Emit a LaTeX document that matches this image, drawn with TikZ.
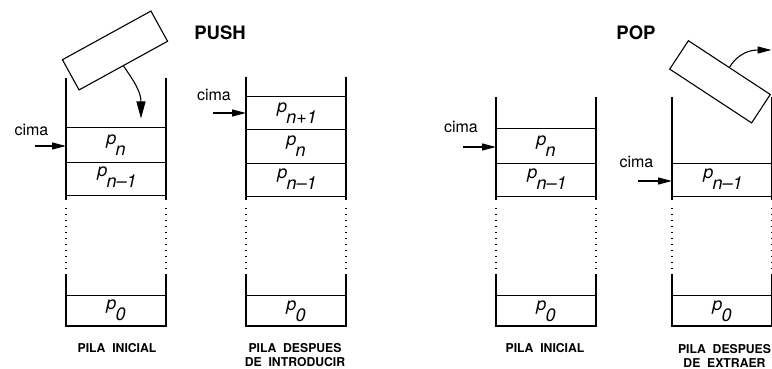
\documentclass[tikz,border=0pt]{standalone}
\usepackage{fontspec}
\setmainfont{TeX Gyre Heros}
\usetikzlibrary{arrows.meta,calc}
\tikzset{
  wall/.style={line width=1.1pt},
  sepline/.style={line width=1pt},
  dotwall/.style={line width=1.1pt, dash pattern=on 1pt off 5pt},
  cimaarrow/.style={line width=1.1pt,-{Triangle[length=14pt,width=7pt]}},
  lbl/.style={font=\fontsize{18}{18}\selectfont\itshape, inner sep=0pt},
  capt/.style={font=\fontsize{12.2}{14}\selectfont\bfseries, align=center, inner sep=0pt},
  ttl/.style={font=\fontsize{18.5}{18.5}\selectfont\bfseries, inner sep=0pt},
  cimatxt/.style={font=\fontsize{16}{16}\selectfont, inner sep=0pt},
  block/.style={draw, line width=1.1pt, inner sep=0pt}
}
\newcommand\pl[1]{p\kern-0.8pt\raisebox{-11pt}{#1}}
\newcommand\drawpila[2]{% #1 left x, #2 top y
  \draw[wall] (#1,#2) -- (#1,200) (#1+100,#2) -- (#1+100,200);
  \draw[dotwall] (#1,208) -- (#1,270) (#1+100,208) -- (#1+100,270);
  \draw[wall] (#1,274) -- (#1,326) -- (#1+100,326) -- (#1+100,274);
  \draw[sepline] (#1,295.5) -- (#1+100,295.5);
}
\begin{document}
\begin{tikzpicture}[x=1pt,y=-1pt]
\useasboundingbox (0,0) rectangle (772,369);

% titles
\node[ttl] (push) at (220,33) {PUSH};
\node[ttl] (pop) at (636,33) {POP};

% ---------- stack 1 ----------
\drawpila{66}{78}
\foreach \yy in {128,162,195} \draw[sepline] (66,\yy) -- (166,\yy);
\node[lbl] (s1a) at (116,145) {\pl{n}};
\node[lbl] (s1b) at (117,177.5) {\pl{n–1}};
\node[lbl] (s1z) at (116,310.5) {\pl{0}};
\node[cimatxt] (c1) at (31.5,130) {cima};
\coordinate (a1s) at (35,146); \coordinate (a1e) at (66,146);
\draw[cimaarrow] (a1s) -- (a1e);
\node[capt] (l1) at (117,348) {PILA\ \ INICIAL};

% falling block
\node[block, minimum width=101pt, minimum height=34.5pt, rotate=28.8] (r1) at (115,50.5) {};
\coordinate (t1) at (141,118.5);
\draw[line width=1.1pt,-{Triangle[length=17pt,width=9pt]}] (r1.south) .. controls (134,81) and (141,92) .. (t1);

% ---------- stack 2 ----------
\drawpila{246}{77}
\foreach \yy in {97,130,163,196} \draw[sepline] (246,\yy) -- (346,\yy);
\node[lbl] (s2a) at (297,113.5) {\pl{n+1}};
\node[lbl] (s2b) at (296,146.5) {\pl{n}};
\node[lbl] (s2c) at (297,179) {\pl{n–1}};
\node[lbl] (s2z) at (296,311) {\pl{0}};
\node[cimatxt] (c2) at (214,95) {cima};
\coordinate (a2s) at (213,113); \coordinate (a2e) at (246,113);
\draw[cimaarrow] (a2s) -- (a2e);
\node[capt] (l2) at (295,355.5) {PILA\ \ DESPUES\\DE\ \ INTRODUCIR};

% ---------- stack 3 ----------
\drawpila{496}{97}
\foreach \yy in {129,163,196} \draw[sepline] (496,\yy) -- (596,\yy);
\node[lbl] (s3a) at (546,146) {\pl{n}};
\node[lbl] (s3b) at (547,179) {\pl{n–1}};
\node[lbl] (s3z) at (546,311) {\pl{0}};
\node[cimatxt] (c3) at (461,127) {cima};
\coordinate (a3s) at (463,147); \coordinate (a3e) at (496,147);
\draw[cimaarrow] (a3s) -- (a3e);
\node[capt] (l3) at (545,348) {PILA\ \ INICIAL};

% ---------- stack 4 ----------
\drawpila{672}{97}
\foreach \yy in {163,196} \draw[sepline] (672,\yy) -- (772,\yy);
\node[lbl] (s4b) at (723,179) {\pl{n–1}};
\node[lbl] (s4z) at (722,311) {\pl{0}};
\node[cimatxt] (c4) at (636.5,162) {cima};
\coordinate (a4s) at (638,181); \coordinate (a4e) at (672,181);
\draw[cimaarrow] (a4s) -- (a4e);
\node[capt] (l4) at (724.5,355.5) {PILA\ \ DESPUES\\DE\ \ EXTRAER};

% leaving block
\node[block, minimum width=98pt, minimum height=34pt, rotate=-33.3] (r2) at (720,81.8) {};
\coordinate (t2) at (771.5,50);
\draw[line width=1.1pt,-{Triangle[length=14pt,width=7pt]}] (r2.north) .. controls (735,58) and (745,50) .. (t2);
\end{tikzpicture}
\end{document}
